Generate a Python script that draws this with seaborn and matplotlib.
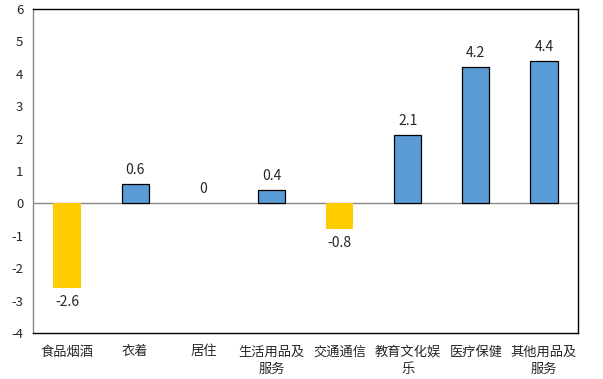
import numpy as np
import pandas as pd
import matplotlib
matplotlib.use('Agg')
import matplotlib.pyplot as plt
import seaborn as sns

categories = ['食品烟酒', '衣着', '居住', '生活用品及\n服务', '交通通信',
              '教育文化娱\n乐', '医疗保健', '其他用品及\n服务']
values = [-2.6, 0.6, 0, 0.4, -0.8, 2.1, 4.2, 4.4]
value_labels = ['-2.6', '0.6', '0', '0.4', '-0.8', '2.1', '4.2', '4.4']

COLOR_POS = '#5B9BD5'
COLOR_NEG = '#FFCC00'

sns.set_style('white')
plt.rcParams['font.family'] = ['Noto Sans CJK SC', 'DejaVu Sans']

df = pd.DataFrame({'cat': categories, 'val': values})
df['sign'] = np.where(df['val'] < 0, 'neg', 'pos')

fig = plt.figure(figsize=(6.03, 3.79), dpi=100)
ax = fig.add_axes([33 / 603, 1 - 333 / 379, (578 - 33) / 603, (333 - 9) / 379])

sns.barplot(data=df, x='cat', y='val', hue='sign', dodge=False,
            palette={'pos': COLOR_POS, 'neg': COLOR_NEG}, saturation=1,
            width=0.4, legend=False, ax=ax)

# blue bars get a black outline, gold ones none
for patch in ax.patches:
    h = patch.get_height()
    if h > 0:
        patch.set_edgecolor('black')
        patch.set_linewidth(0.9)
    else:
        patch.set_edgecolor('none')

ax.axhline(0, color='#888888', lw=1.0, zorder=0.5)

for i, (v, lab) in enumerate(zip(values, value_labels)):
    if v < 0:
        ax.text(i, v - 0.22, lab, ha='center', va='top', fontsize=10)
    else:
        ax.text(i, v + 0.22, lab, ha='center', va='bottom', fontsize=10)

ax.set_ylim(-4, 6)
ax.set_xlim(-0.5, len(categories) - 0.5)
ax.set_yticks(range(-4, 7))
ax.set_yticklabels([str(t) for t in range(-4, 7)], fontsize=9.5)
ax.set_xticks(range(len(categories)))
ax.set_xticklabels(categories, fontsize=9.5, linespacing=1.4)
ax.tick_params(axis='y', length=0, pad=7)
ax.tick_params(axis='x', length=0, pad=9)
ax.set_xlabel('')
ax.set_ylabel('')

for side in ['top', 'right', 'bottom']:
    ax.spines[side].set_color('black')
    ax.spines[side].set_linewidth(1.0)
ax.spines['left'].set_color('#888888')
ax.spines['left'].set_linewidth(1.0)

fig.savefig('out.png', dpi=100)
